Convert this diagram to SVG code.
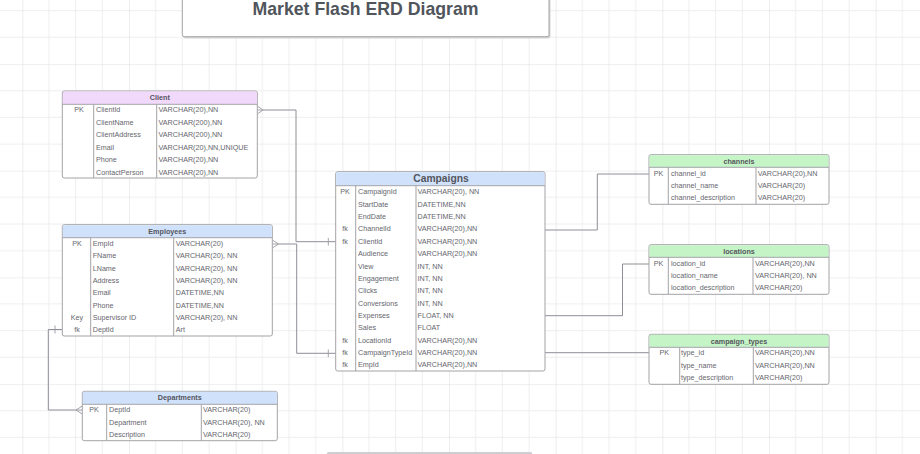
<svg xmlns="http://www.w3.org/2000/svg" width="920" height="454" viewBox="0 0 920 454">
<defs>
<pattern id="grid" x="22.33" y="64" width="106.67" height="106.67" patternUnits="userSpaceOnUse">
<path d="M26.67,0V106.67M53.33,0V106.67M80,0V106.67M0,26.67H106.67M0,53.33H106.67M0,80H106.67" stroke="#eeeeee" stroke-width="1" fill="none"/>
<path d="M0,0V106.67M0,0H106.67" stroke="#e2e2e2" stroke-width="1.2" fill="none"/>
</pattern>
</defs>
<style>
.box{fill:#ffffff;stroke:#a3a3a8;stroke-width:1}
.div{stroke:#a3a3a8;stroke-width:1}
.hp{fill:#f1d9fb}
.hb{fill:#d0e2fb}
.hg{fill:#c5f5c7}
text{font-family:"Liberation Sans",Arial,sans-serif;fill:#66666e;font-size:7.2px}
.h{font-weight:bold;text-anchor:middle;fill:#55555d}
.k{text-anchor:middle}
.conn{fill:none;stroke:#8e8e98;stroke-width:1}
.mk{fill:none;stroke:#9a9aa2;stroke-width:0.9}
</style>
<rect x="0" y="0" width="920" height="454" fill="#ffffff"/>
<rect x="0" y="0" width="920" height="454" fill="url(#grid)"/>

<g id="title">
<rect x="183.5" y="-4" width="367" height="42.5" rx="2" fill="#d4d4d6"/>
<rect x="182.3" y="-5" width="366.7" height="41.7" rx="2" fill="#ffffff" stroke="#a5a5a8" stroke-width="1"/>
<text x="365.5" y="15" style="font-size:17.7px;font-weight:bold;fill:#50555c;text-anchor:middle">Market Flash ERD Diagram</text>
</g>

<rect x="326.7" y="452" width="205.6" height="8" rx="2" fill="#cdced1"/>

<g id="connectors">
<path class="conn" d="M263,110H296V241.7H335.7"/>
<path class="mk" d="M257.3,106L263,110L257.3,114M257.3,110H263"/>
<path class="mk" d="M328.3,238V245.5"/>
<path class="conn" d="M278.5,244H296.7V353.3H335.7"/>
<path class="mk" d="M272.3,240L278.5,244L272.3,248M272.3,244H278.5"/>
<path class="mk" d="M328.3,349.5V357"/>
<path class="conn" d="M62.3,329.5H48.3V410H76"/>
<path class="mk" d="M55,325.5V333.5"/>
<path class="mk" d="M82.3,406L76,410L82.3,414M82.3,410H76"/>
<path class="conn" d="M545,230H597.3V174H649"/>
<path class="conn" d="M545,315.7H622.5V264H649"/>
<path class="conn" d="M545,352.7H649"/>
</g>

<g id="client">
<rect class="box" x="62.3" y="91" width="195" height="87" rx="2"/>
<path class="hp" d="M63.8,91.5H255.8Q256.8,91.5 256.8,93V104H62.8V93Q62.8,91.5 63.8,91.5Z"/>
<path class="div" d="M62.3,104.3H257.3M93.7,104.3V178M156.7,104.3V178"/>
<text class="h" x="159.8" y="100">Client</text>
<text class="k" x="79" y="112">PK</text>
<text x="96" y="112">ClientId</text><text x="158.5" y="112">VARCHAR(20),NN</text>
<text x="96" y="124.5">ClientName</text><text x="158.5" y="124.5">VARCHAR(200),NN</text>
<text x="96" y="137">ClientAddress</text><text x="158.5" y="137">VARCHAR(200),NN</text>
<text x="96" y="149.5">Email</text><text x="158.5" y="149.5">VARCHAR(20),NN,UNIQUE</text>
<text x="96" y="162">Phone</text><text x="158.5" y="162">VARCHAR(20),NN</text>
<text x="96" y="174.5">ContactPerson</text><text x="158.5" y="174.5">VARCHAR(20),NN</text>
</g>

<g id="employees">
<rect class="box" x="62.3" y="224.7" width="210" height="111.3" rx="2"/>
<path class="hb" d="M63.8,225.2H270.8Q271.8,225.2 271.8,226.7V237.5H62.8V226.7Q62.8,225.2 63.8,225.2Z"/>
<path class="div" d="M62.3,237.7H272.3M90.7,237.7V336M173.7,237.7V336"/>
<text class="h" x="167.3" y="233.6">Employees</text>
<text class="k" x="77" y="246">PK</text>
<text x="92.7" y="246">EmpId</text><text x="175.7" y="246">VARCHAR(20)</text>
<text x="92.7" y="258.3">FName</text><text x="175.7" y="258.3">VARCHAR(20), NN</text>
<text x="92.7" y="270.6">LName</text><text x="175.7" y="270.6">VARCHAR(20), NN</text>
<text x="92.7" y="282.9">Address</text><text x="175.7" y="282.9">VARCHAR(20), NN</text>
<text x="92.7" y="295.2">Email</text><text x="175.7" y="295.2">DATETIME,NN</text>
<text x="92.7" y="307.5">Phone</text><text x="175.7" y="307.5">DATETIME,NN</text>
<text class="k" x="77" y="319.8">Key</text>
<text x="92.7" y="319.8">Supervisor  ID</text><text x="175.7" y="319.8">VARCHAR(20), NN</text>
<text class="k" x="77" y="332.1">fk</text>
<text x="92.7" y="332.1">DeptId</text><text x="175.7" y="332.1">Art</text>
</g>

<g id="campaigns">
<rect class="box" x="335.7" y="171.7" width="209.3" height="199.3" rx="2"/>
<path class="hb" d="M337.2,172.2H543Q544.5,172.2 544.5,173.7V185.5H336.2V173.7Q336.2,172.2 337.2,172.2Z"/>
<path class="div" d="M335.7,185.7H545M355.7,185.7V371M416,185.7V371"/>
<text class="h" x="441" y="182.2" style="font-size:10.3px">Campaigns</text>
<text class="k" x="345" y="194.3">PK</text>
<text x="358" y="194.3">CampaignId</text><text x="417.5" y="194.3">VARCHAR(20), NN</text>
<text x="358" y="206.7">StartDate</text><text x="417.5" y="206.7">DATETIME,NN</text>
<text x="358" y="219">EndDate</text><text x="417.5" y="219">DATETIME,NN</text>
<text class="k" x="345" y="231.4">fk</text>
<text x="358" y="231.4">ChannelId</text><text x="417.5" y="231.4">VARCHAR(20),NN</text>
<text class="k" x="345" y="243.7">fk</text>
<text x="358" y="243.7">ClientId</text><text x="417.5" y="243.7">VARCHAR(20),NN</text>
<text x="358" y="256.1">Audience</text><text x="417.5" y="256.1">VARCHAR(20),NN</text>
<text x="358" y="268.5">View</text><text x="417.5" y="268.5">INT, NN</text>
<text x="358" y="280.8">Engagement</text><text x="417.5" y="280.8">INT, NN</text>
<text x="358" y="293.2">Clicks</text><text x="417.5" y="293.2">INT, NN</text>
<text x="358" y="305.5">Conversions</text><text x="417.5" y="305.5">INT, NN</text>
<text x="358" y="317.9">Expenses</text><text x="417.5" y="317.9">FLOAT, NN</text>
<text x="358" y="330.3">Sales</text><text x="417.5" y="330.3">FLOAT</text>
<text class="k" x="345" y="342.6">fk</text>
<text x="358" y="342.6">LocationId</text><text x="417.5" y="342.6">VARCHAR(20),NN</text>
<text class="k" x="345" y="355">fk</text>
<text x="358" y="355">CampaignTypeId</text><text x="417.5" y="355">VARCHAR(20),NN</text>
<text class="k" x="345" y="367.3">fk</text>
<text x="358" y="367.3">EmpId</text><text x="417.5" y="367.3">VARCHAR(20),NN</text>
</g>

<g id="channels">
<rect class="box" x="649" y="154.7" width="180" height="49.6" rx="2"/>
<path class="hg" d="M650.5,155.2H827Q828.5,155.2 828.5,156.7V167.1H649.5V156.7Q649.5,155.2 650.5,155.2Z"/>
<path class="div" d="M649,167.3H829M668.3,167.3V204.3M756,167.3V204.3"/>
<text class="h" x="739" y="163.6">channels</text>
<text class="k" x="658.5" y="176">PK</text>
<text x="671" y="176">channel_id</text><text x="757.7" y="176">VARCHAR(20),NN</text>
<text x="671" y="188.2">channel_name</text><text x="757.7" y="188.2">VARCHAR(20)</text>
<text x="671" y="200.4">channel_description</text><text x="757.7" y="200.4">VARCHAR(20)</text>
</g>

<g id="locations">
<rect class="box" x="649" y="244.7" width="180" height="49.6" rx="2"/>
<path class="hg" d="M650.5,245.2H827Q828.5,245.2 828.5,246.7V257.1H649.5V246.7Q649.5,245.2 650.5,245.2Z"/>
<path class="div" d="M649,257.3H829M668.3,257.3V294.3M753,257.3V294.3"/>
<text class="h" x="739" y="253.6">locations</text>
<text class="k" x="658.5" y="266">PK</text>
<text x="671" y="266">location_id</text><text x="755" y="266">VARCHAR(20),NN</text>
<text x="671" y="278.2">location_name</text><text x="755" y="278.2">VARCHAR(20), NN</text>
<text x="671" y="290.4">location_description</text><text x="755" y="290.4">VARCHAR(20)</text>
</g>

<g id="campaign_types">
<rect class="box" x="649" y="334.3" width="180" height="50" rx="2"/>
<path class="hg" d="M650.5,334.8H827Q828.5,334.8 828.5,336.3V347.1H649.5V336.3Q649.5,334.8 650.5,334.8Z"/>
<path class="div" d="M649,347.3H829M679.7,347.3V384.3M753.3,347.3V384.3"/>
<text class="h" x="739" y="343.5">campaign_types</text>
<text class="k" x="664.3" y="355.4">PK</text>
<text x="681" y="355.4">type_id</text><text x="755" y="355.4">VARCHAR(20),NN</text>
<text x="681" y="367.9">type_name</text><text x="755" y="367.9">VARCHAR(20),NN</text>
<text x="681" y="380.4">type_description</text><text x="755" y="380.4">VARCHAR(20)</text>
</g>

<g id="departments">
<rect class="box" x="82.3" y="391.3" width="195" height="49.4" rx="2"/>
<path class="hb" d="M83.8,391.8H275.8Q276.8,391.8 276.8,393.3V404.1H82.8V393.3Q82.8,391.8 83.8,391.8Z"/>
<path class="div" d="M82.3,404.3H277.3M106.7,404.3V440.7M201.3,404.3V440.7"/>
<text class="h" x="179.8" y="400.3">Departments</text>
<text class="k" x="94" y="412.3">PK</text>
<text x="109" y="412.3">DeptId</text><text x="203" y="412.3">VARCHAR(20)</text>
<text x="109" y="424.7">Department</text><text x="203" y="424.7">VARCHAR(20), NN</text>
<text x="109" y="437">Description</text><text x="203" y="437">VARCHAR(20)</text>
</g>
</svg>
